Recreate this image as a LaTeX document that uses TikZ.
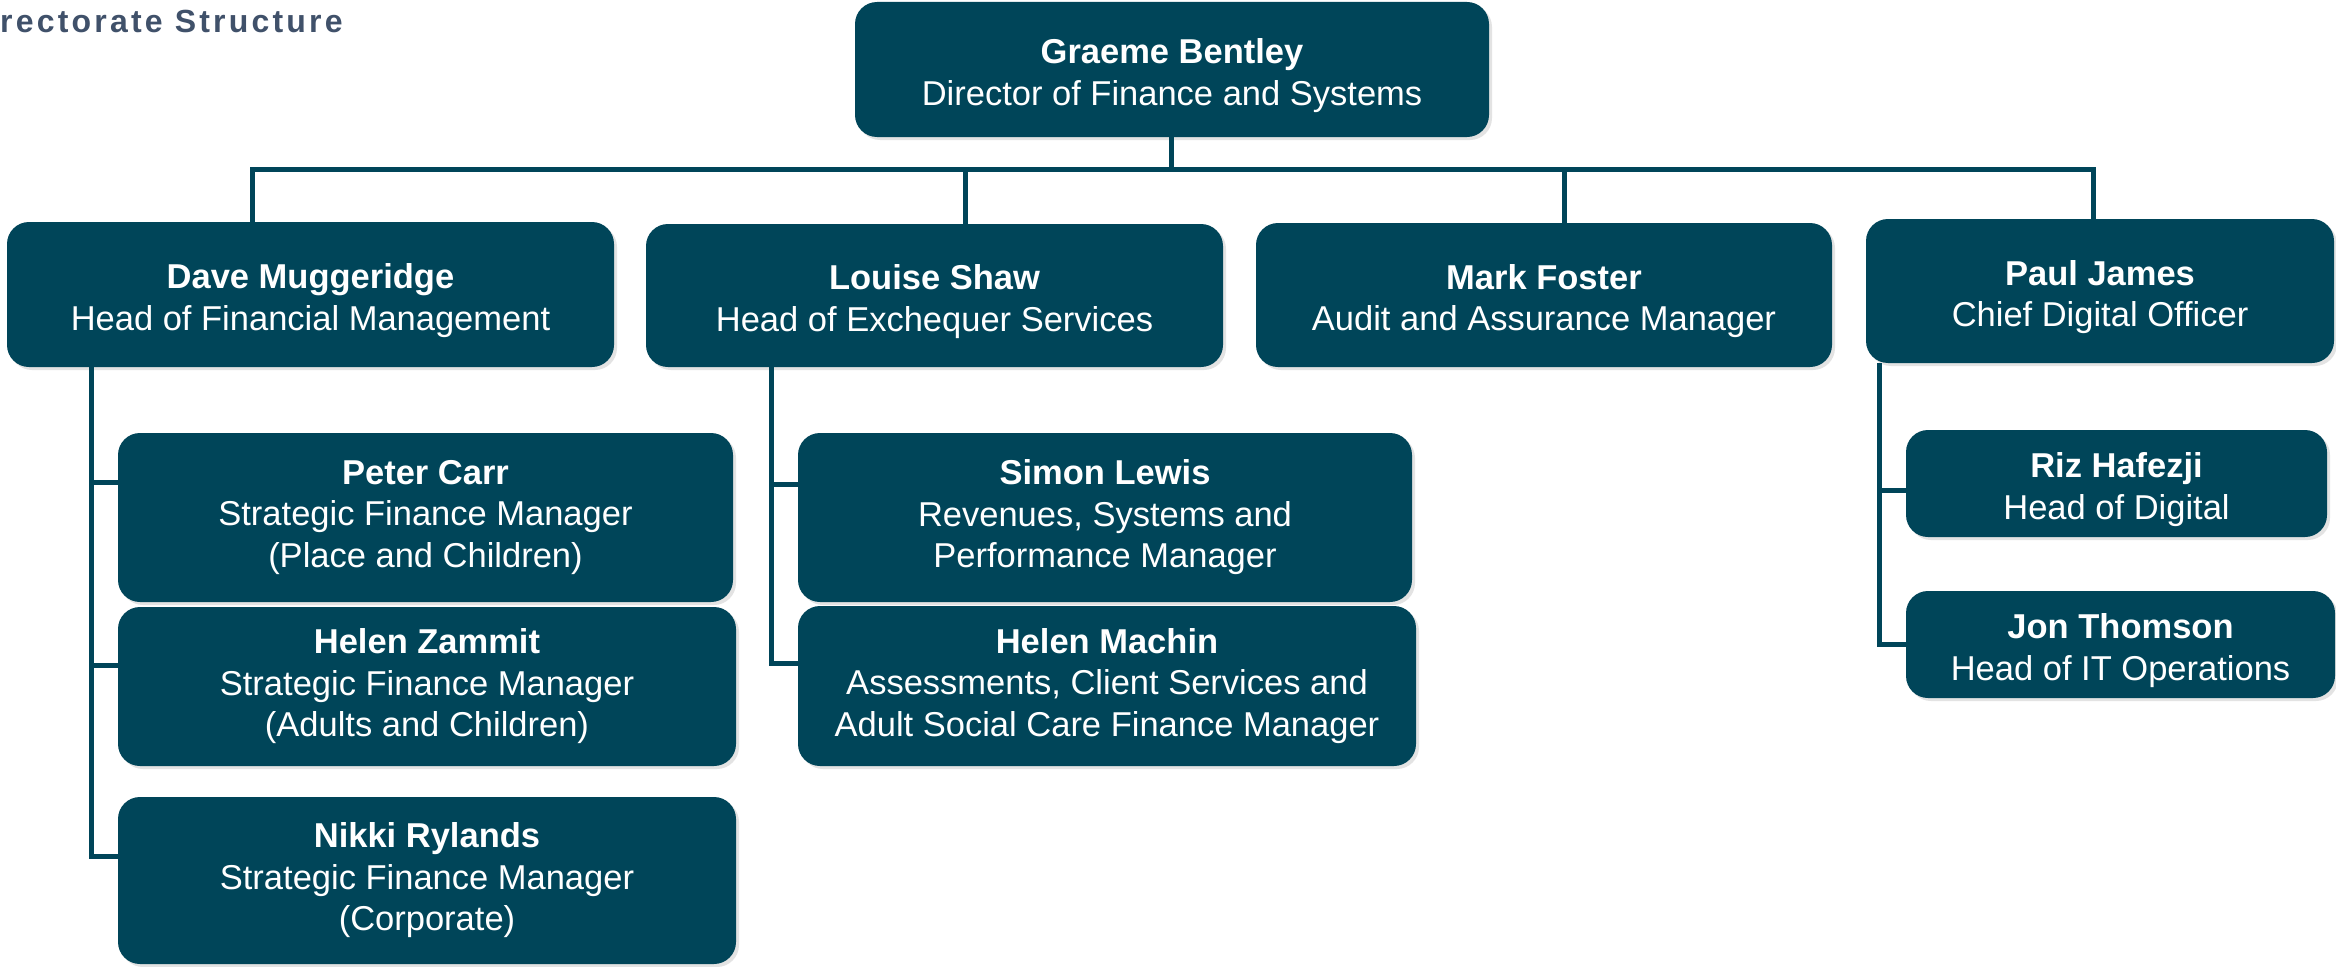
\documentclass[tikz,border=0pt]{standalone}
\usepackage{fontspec}
\setmainfont{Liberation Sans}
\usetikzlibrary{shadows}
\definecolor{boxcol}{RGB}{0,69,89}
\definecolor{titlecol}{RGB}{64,81,106}
\newcommand{\tallstrut}{\rule{0pt}{37pt}}
\tikzset{
  orgbox/.style={draw=none, fill=boxcol, rounded corners=22pt, inner sep=0pt,
    text=white, align=center, font=\fontsize{34.5pt}{41.5pt}\selectfont,
    drop shadow={shadow xshift=3pt, shadow yshift=-3pt, opacity=.22}},
  conn/.style={draw=boxcol, line width=5pt, line cap=butt, line join=miter},
  titletext/.style={text=titlecol, inner sep=0pt, anchor=base west,
    font=\fontsize{32pt}{38pt}\selectfont\bfseries\addfontfeature{LetterSpace=10}}
}
\begin{document}
\begin{tikzpicture}[x=1pt,y=-1pt]
\path[use as bounding box, clip] (0,0) rectangle (2336,966);
\fill[white] (0,0) rectangle (2336,966);

% title
\node[titletext] (title) at (0,33) {rectorate Structure};

% boxes
\node[orgbox, minimum width=634pt, minimum height=135pt] (g) at (1172,69.5)
  {\tallstrut\textbf{Graeme Bentley}\\Director of Finance and Systems};
\node[orgbox, minimum width=607pt, minimum height=145pt] (dave) at (310.5,294.5)
  {\tallstrut\textbf{Dave Muggeridge}\\Head of Financial Management};
\node[orgbox, minimum width=577pt, minimum height=143pt] (louise) at (934.5,295.5)
  {\tallstrut\textbf{Louise Shaw}\\Head of Exchequer Services};
\node[orgbox, minimum width=576pt, minimum height=144pt] (mark) at (1544,295)
  {\tallstrut\textbf{Mark Foster}\\Audit and Assurance Manager};
\node[orgbox, minimum width=468pt, minimum height=144pt] (paul) at (2100,291)
  {\tallstrut\textbf{Paul James}\\Chief Digital Officer};

\node[orgbox, minimum width=615pt, minimum height=169pt] (peter) at (425.5,517.5)
  {\textbf{Peter Carr}\\Strategic Finance Manager\\(Place and Children)};
\node[orgbox, minimum width=618pt, minimum height=159pt] (zammit) at (427,686.5)
  {\textbf{Helen Zammit}\\Strategic Finance Manager\\(Adults and Children)};
\node[orgbox, minimum width=618pt, minimum height=167pt] (nikki) at (427,880.5)
  {\textbf{Nikki Rylands}\\Strategic Finance Manager\\(Corporate)};

\node[orgbox, minimum width=614pt, minimum height=169pt] (simon) at (1105,517.5)
  {\textbf{Simon Lewis}\\Revenues, Systems and\\Performance Manager};
\node[orgbox, minimum width=618pt, minimum height=160pt] (machin) at (1107,686)
  {\textbf{Helen Machin}\\Assessments, Client Services and\\Adult Social Care Finance Manager};

\node[orgbox, minimum width=421pt, minimum height=107pt] (riz) at (2116.5,483.5)
  {\tallstrut\textbf{Riz Hafezji}\\Head of Digital};
\node[orgbox, minimum width=429pt, minimum height=107pt] (jon) at (2120.5,644.5)
  {\tallstrut\textbf{Jon Thomson}\\Head of IT Operations};

% connector junctions
\coordinate (gb) at (1171,169);
\coordinate (busL) at (252,169);
\coordinate (busR) at (2093,169);
\coordinate (lj) at (965,169);
\coordinate (mj) at (1564,169);
\coordinate (dp) at (91,482);
\coordinate (dz) at (91,665);
\coordinate (dk) at (91,856);
\coordinate (ls) at (771,484);
\coordinate (lm) at (771,663);
\coordinate (pr) at (1879,490);
\coordinate (pj) at (1879,644);

% top level
\draw[conn] (g.south -| gb) -- (gb);
\draw[conn] (dave.north -| busL) -- (busL) -- (busR) -- (paul.north -| busR);
\draw[conn] (lj) -- (louise.north -| lj);
\draw[conn] (mj) -- (mark.north -| mj);

% Dave's team
\draw[conn] (dave.south -| dk) -- (dk) -- (nikki.west |- dk);
\draw[conn] (dp) -- (peter.west |- dp);
\draw[conn] (dz) -- (zammit.west |- dz);

% Louise's team
\draw[conn] (louise.south -| lm) -- (lm) -- (machin.west |- lm);
\draw[conn] (ls) -- (simon.west |- ls);

% Paul's team
\draw[conn] (paul.south -| pj) -- (pj) -- (jon.west |- pj);
\draw[conn] (pr) -- (riz.west |- pr);
\end{tikzpicture}
\end{document}
